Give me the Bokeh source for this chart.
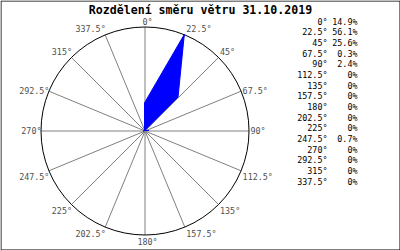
import numpy as np
from bokeh.plotting import figure
from bokeh.models import Range1d
from bokeh.core.properties import value
from bokeh.embed import file_html
from bokeh.resources import INLINE

# ---- data ----
title_text = "Rozdělení směru větru 31.10.2019"
directions = [0, 22.5, 45, 67.5, 90, 112.5, 135, 157.5, 180, 202.5, 225, 247.5, 270, 292.5, 315, 337.5]
percents = [14.9, 56.1, 25.6, 0.3, 2.4, 0, 0, 0, 0, 0, 0, 0.7, 0, 0, 0, 0]

# ---- geometry (pixel layout) ----
W, H = 400, 250
CX, CY, R = 144.0, 130.0, 104.0

def px(x):
    return (x - CX) / R

def py(y):
    return (CY - y) / R

p = figure(width=W, height=H, output_backend="svg", toolbar_location=None,
           x_range=Range1d(px(0), px(W)), y_range=Range1d(py(H), py(0)),
           min_border=0)
p.axis.visible = False
p.grid.visible = False
p.background_fill_color = "white"
p.border_fill_color = "white"
p.outline_line_color = None

theta = np.radians(directions)
ex = np.sin(theta)
ey = np.cos(theta)

# spokes
p.segment(x0=np.zeros(len(directions)) + 0.5 / R, y0=np.zeros(len(directions)) - 0.5 / R,
          x1=ex + 0.5 / R, y1=ey - 0.5 / R, line_color="#808080", line_width=1)

# circle
p.circle(x=[0.5 / R], y=[-0.5 / R], radius=1.0, fill_color=None, line_color="black", line_width=1)

# rose polygon
mx = max(percents)
r = np.array(percents) / mx
p.patch(x=r * ex, y=r * ey, fill_color="#0000ff", line_color="#0000ff", line_width=1)

# angle labels
font = value("DejaVu Sans Mono")
labels = ["%g°" % d for d in directions]
for d, lx, ly, lab in zip(directions, ex, ey, labels):
    if d in (0, 180):
        align, xo = "center", 3
    elif d < 180:
        align, xo = "left", 2
    else:
        align, xo = "right", 1
    if d in (90, 270, 67.5, 292.5):
        base, yo = "middle", 0
    elif d < 90 or d > 270:
        base, yo = "bottom", 0
    else:
        base, yo = "top", 2
    p.text(x=[lx], y=[ly], text=[lab], text_font=font, text_font_size="8.4px",
           text_color="#505050", text_align=align, text_baseline=base,
           x_offset=xo, y_offset=yo)

# title
p.text(x=[px(200)], y=[py(9)], text=[title_text], text_font=font, text_font_size="11.6px",
       text_font_style="bold", text_color="black", text_align="center", text_baseline="middle")

# legend table
rows_y = [py(21 + i * 10.67) for i in range(len(directions))]
p.text(x=[px(327)] * len(directions), y=rows_y, text=labels, text_font=font,
       text_font_size="8.4px", text_color="black", text_align="right", text_baseline="middle")
p.text(x=[px(357)] * len(directions), y=rows_y, text=["%g%%" % v for v in percents],
       text_font=font, text_font_size="8.4px", text_color="black", text_align="right",
       text_baseline="middle")

# frame border
p.quad(left=[px(0.5)], right=[px(W - 0.5)], bottom=[py(H - 0.5)], top=[py(0.5)],
       fill_color=None, line_color="black", line_width=1)

open("out.html", "w").write(file_html(p, INLINE))
